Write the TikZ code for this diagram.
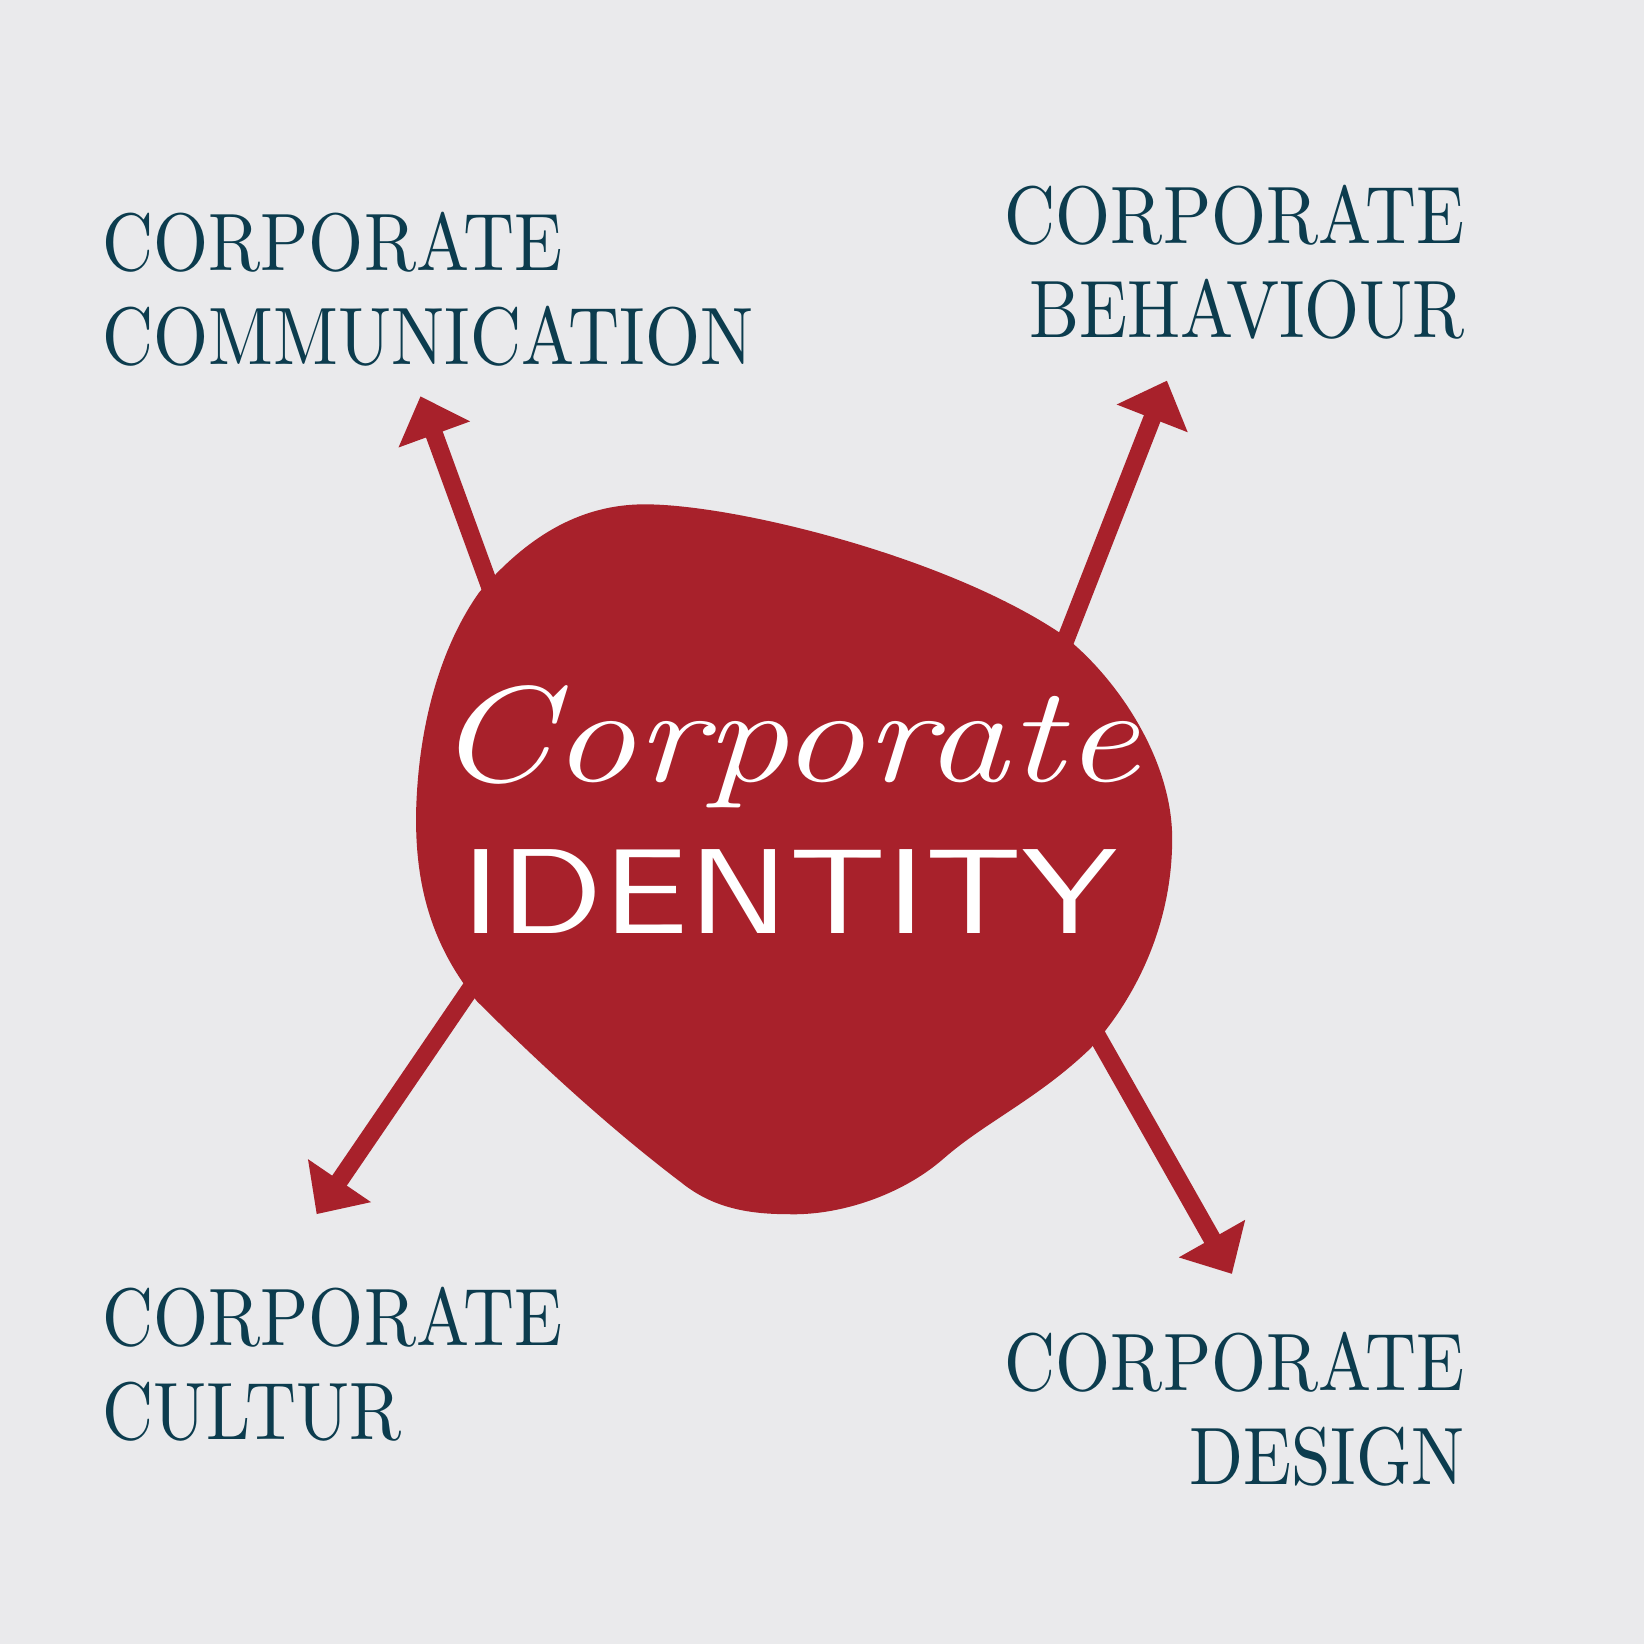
\documentclass[tikz,border=0pt]{standalone}
\usepackage{tikz}
\usetikzlibrary{arrows.meta,positioning}
\definecolor{cibg}{HTML}{EAEAEC}
\definecolor{cired}{HTML}{A8212B}
\definecolor{citeal}{HTML}{0C3C4E}
\tikzset{
    ray/.style={line width=4.8pt, draw=cired, -{Triangle[length=11pt,width=20pt]}},
    lbl/.style={text=citeal, inner sep=0pt, font=\fontsize{10}{11.584}\selectfont},
}
\newcommand{\pairleft}[2]{\scalebox{1.92}[2.21]{\begin{tabular}[t]{@{}l@{}}#1\\#2\end{tabular}}}
\newcommand{\pairright}[2]{\scalebox{1.92}[2.21]{\begin{tabular}[t]{@{}r@{}}#1\\#2\end{tabular}}}

\begin{document}
\begin{tikzpicture}[x=0.01cm, y=-0.01cm]
    \fill[cibg] (0,0) rectangle (1568,1568);
    \useasboundingbox (0,0) rectangle (1568,1568);

    \coordinate (sComm) at (482,600);
    \coordinate (tComm) at (401,378);
    \coordinate (sBehav) at (995,665);
    \coordinate (tBehav) at (1113,363);
    \coordinate (sCult) at (478,900);
    \coordinate (tCult) at (302,1158);
    \coordinate (sDes) at (1025,950);
    \coordinate (tDes) at (1175,1215);
    \draw[ray] (sComm) -- (tComm);
    \draw[ray] (sBehav) -- (tBehav);
    \draw[ray] (sCult) -- (tCult);
    \draw[ray] (sDes) -- (tDes);

    \fill[cired] (457,565) .. controls (500,515) and (550,481) .. (615,481)
        .. controls (700,481) and (900,530) .. (1010,603)
        .. controls (1060,640) and (1118,720) .. (1118,800)
        .. controls (1118,880) and (1085,950) .. (1040,1000)
        .. controls (990,1048) and (940,1070) .. (900,1105)
        .. controls (860,1140) and (800,1160) .. (750,1158)
        .. controls (705,1158) and (675,1148) .. (650,1128)
        .. controls (580,1075) and (510,1010) .. (455,955)
        .. controls (410,900) and (395,840) .. (397,770)
        .. controls (400,680) and (425,610) .. (457,565) -- cycle;

    \node[text=white, inner sep=0pt, anchor=base, font=\fontsize{42}{42}\selectfont\itshape] (script) at (750,745) {\scalebox{1.083}[0.88]{Corporate}};
    \node[text=white, inner sep=0pt, anchor=base, font=\fontsize{10}{12}\selectfont\sffamily] (ident) at (753,890) {\scalebox{3.86}[3.28]{IDENTITY}};

    \node[lbl, anchor=base west] (comm) at (97,258) {\pairleft{CORPORATE}{COMMUNICATION}};
    \node[lbl, anchor=base east] (behav) at (1398,232) {\pairright{CORPORATE}{BEHAVIOUR}};
    \node[lbl, anchor=base west] (cult) at (97,1283) {\pairleft{CORPORATE}{CULTUR}};
    \node[lbl, anchor=base east] (des) at (1398,1326) {\pairright{CORPORATE}{DESIGN}};
\end{tikzpicture}
\end{document}
